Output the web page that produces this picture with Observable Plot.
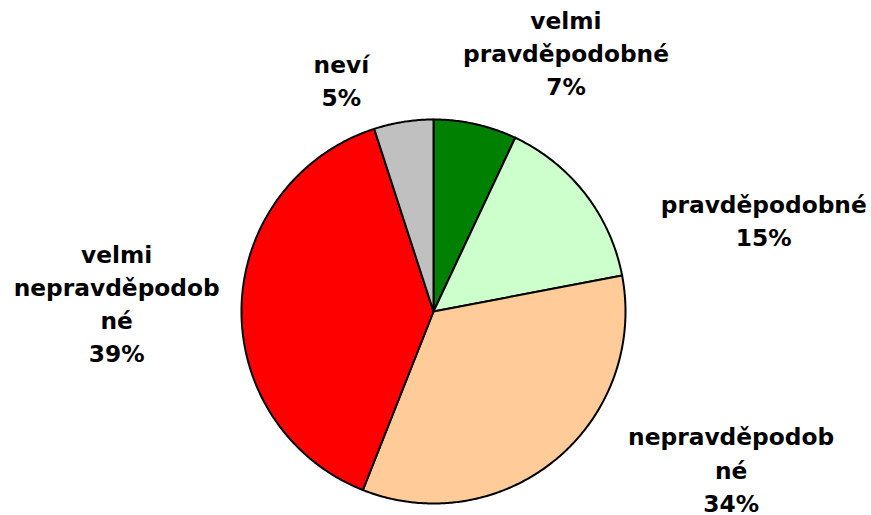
<!DOCTYPE html>
<html>
<head>
<meta charset="utf-8">
<script src="https://cdn.jsdelivr.net/npm/d3@7"></script>
<script src="https://cdn.jsdelivr.net/npm/@observablehq/plot@0.6"></script>
<style>
  html, body { margin: 0; padding: 0; background: #fff; }
  #chart { width: 871px; height: 515px; }
</style>
</head>
<body>
<div id="chart"></div>
<script>
// Categories (clockwise from 12 o'clock) and their shares in percent
const categories = ["velmi pravděpodobné", "pravděpodobné", "nepravděpodobné", "velmi nepravděpodobné", "neví"];
const values = [7, 15, 34, 39, 5];
const labelTexts = ["velmi\npravděpodobné\n7%", "pravděpodobné\n15%", "nepravděpodob\nné\n34%", "velmi\nnepravděpodob\nné\n39%", "neví\n5%"];
const colors = ["#008000", "#CCFFCC", "#FFCC99", "#FF0000", "#C0C0C0"];
// Label anchor positions in pie-radius units (x right, y up, centre at 0,0)
const labelX = [0.69, 1.72, 1.55, -1.65, -0.48];
const labelY = [1.355, 0.48, -0.815, 0.05, 1.21];

const arcs = d3.pie().sort(null).value(d => d)(values);
const slices = [];
arcs.forEach((a, i) => {
  const n = Math.max(2, Math.ceil((a.endAngle - a.startAngle) / (Math.PI / 360)));
  slices.push({cat: categories[i], x: 0, y: 0});
  for (let k = 0; k <= n; k++) {
    const t = a.startAngle + (a.endAngle - a.startAngle) * k / n;
    slices.push({cat: categories[i], x: Math.sin(t), y: Math.cos(t)});
  }
  slices.push({cat: categories[i], x: 0, y: 0});
});
const labels = categories.map((c, i) => ({cat: c, text: labelTexts[i], x: labelX[i], y: labelY[i]}));

const W = 871, H = 515, R = 192, CX = 433, CY = 311;
const chart = Plot.plot({
  width: W,
  height: H,
  margin: 0,
  x: {domain: [-CX / R, (W - CX) / R], axis: null},
  y: {domain: [-(H - CY) / R, CY / R], axis: null},
  color: {type: "ordinal", domain: categories, range: colors},
  style: {fontFamily: "'DejaVu Sans', sans-serif", background: "#fff"},
  marks: [
    Plot.line(slices, {x: "x", y: "y", z: "cat", fill: "cat", stroke: "#000", strokeWidth: 2, strokeLinejoin: "round", curve: "linear"}),
    Plot.text(labels, {x: "x", y: "y", text: "text", fontSize: 23.3, fontWeight: "bold", fill: "#000", lineHeight: 1.42, textAnchor: "middle"})
  ]
});
document.getElementById("chart").appendChild(chart);
</script>
</body>
</html>
